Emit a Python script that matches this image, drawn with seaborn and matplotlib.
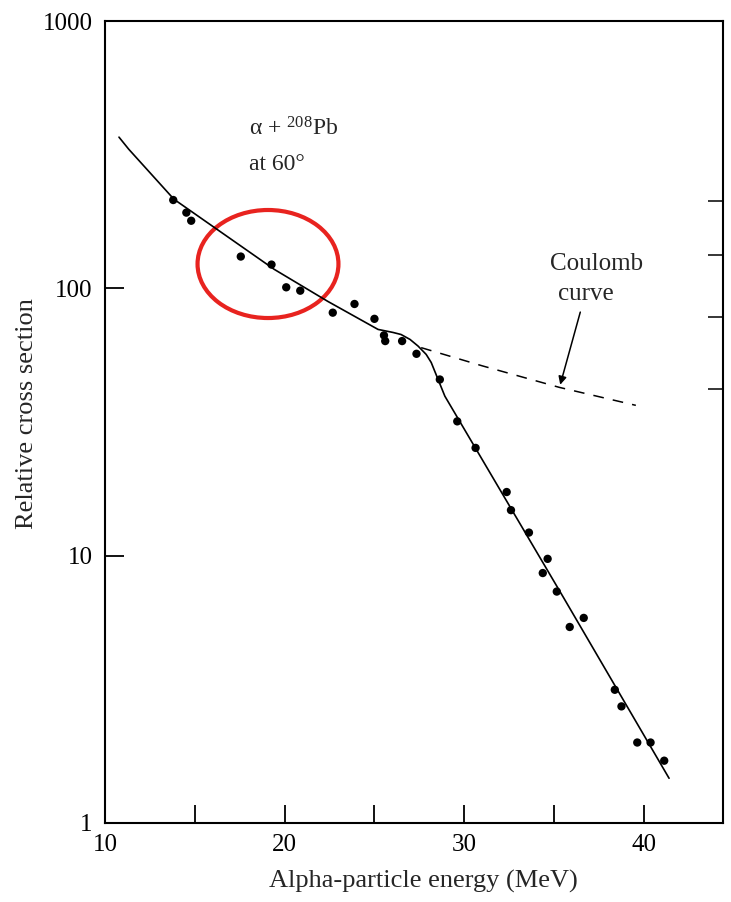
import numpy as np
import pandas as pd
import matplotlib
matplotlib.use("Agg")
import matplotlib.pyplot as plt
import seaborn as sns
from matplotlib.patches import Ellipse
from matplotlib.ticker import FixedLocator, NullFormatter

# measured points (alpha + 208Pb at 60 deg)
energy = [13.80, 14.53, 14.80, 17.56, 19.27, 20.09, 20.87, 22.68, 23.89, 25.00,
          25.53, 25.60, 26.54, 27.34, 28.64, 29.61, 30.63, 32.36, 32.60, 33.60,
          34.64, 34.37, 35.15, 36.65, 35.87, 38.38, 38.75, 39.63, 40.37, 41.13]
cross = [214, 192, 179, 131.5, 122.7, 100.9, 98, 81.1, 87.4, 76.9,
         66.7, 63.5, 63.5, 56.9, 45.6, 31.8, 25.3, 17.3, 14.8, 12.2,
         9.73, 8.61, 7.34, 5.85, 5.41, 3.15, 2.73, 2.0, 2.0, 1.71]

# fitted (solid) curve
fit_e = [10.78, 11.32, 13.84, 16.63, 19.42, 22.40, 25.20, 26.03, 26.48, 26.98,
         27.43, 27.88, 28.16, 28.92, 35.53, 41.40]
fit_cs = [367.8, 331.6, 215.4, 159.3, 117.8, 89.4, 70.2, 68.4, 67.2, 64.4,
          60.8, 56.6, 52.8, 39.5, 6.96, 1.47]

# Coulomb (dashed) curve
coul_e = [27.6, 31.0, 35.3, 39.55]
coul_cs = [60.0, 51.3, 42.6, 36.5]

x_major = [10, 20, 30, 40]
x_minor = [15, 25, 35]
y_major = [1, 10, 100, 1000]
y_right_ticks = [42.2, 77.8, 133, 212]

sns.set_theme(style="white")
plt.rcParams["font.family"] = ["Liberation Serif", "DejaVu Serif"]
plt.rcParams["mathtext.fontset"] = "custom"
plt.rcParams["mathtext.rm"] = "Liberation Serif"
plt.rcParams["mathtext.it"] = "Liberation Serif:italic"

fig = plt.figure(figsize=(7.31, 9.02), dpi=100)
ax = fig.add_axes([0.1436, 0.0876, 0.8454, 0.8891])

fit_df = pd.DataFrame({"E": fit_e, "cs": fit_cs})
coul_df = pd.DataFrame({"E": coul_e, "cs": coul_cs})
pts_df = pd.DataFrame({"E": energy, "cs": cross})

sns.lineplot(data=fit_df, x="E", y="cs", sort=False, color="black", lw=1.2, ax=ax)
sns.lineplot(data=coul_df, x="E", y="cs", sort=False, color="black", lw=1.1,
             dashes=False, ax=ax).lines[-1].set_dashes((7, 6))
sns.scatterplot(data=pts_df, x="E", y="cs", color="black", s=36, edgecolor="none",
                ax=ax, zorder=3)

ax.set_yscale("log")
ax.set_xlim(10, 44.4)
ax.set_ylim(1, 1000)

ax.xaxis.set_major_locator(FixedLocator(x_major))
ax.xaxis.set_minor_locator(FixedLocator(x_minor))
ax.set_xticklabels([str(v) for v in x_major])
ax.yaxis.set_major_locator(FixedLocator(y_major))
ax.set_yticklabels([str(v) for v in y_major])
ax.yaxis.set_minor_locator(FixedLocator(y_right_ticks))
ax.yaxis.set_minor_formatter(NullFormatter())

ax.tick_params(axis="x", which="both", direction="in", length=13, width=1.3,
               labelsize=18, pad=8, bottom=True, top=False, colors="black")
ax.tick_params(axis="y", which="major", direction="in", length=14, width=1.3,
               labelsize=18, pad=9, left=True, right=False, colors="black")
ax.tick_params(axis="y", which="minor", direction="in", length=11, width=1.3,
               left=False, right=True)

for sp in ax.spines.values():
    sp.set_color("black")
    sp.set_linewidth(1.5)

ax.set_xlabel("Alpha-particle energy (MeV)", fontsize=19)
ax.set_ylabel("Relative cross section", fontsize=19)
ax.xaxis.set_label_coords(0.515, -0.059)
ax.yaxis.set_label_coords(-0.108, 0.511)

ax.text(18.0, 395, r"α + $^{208}$Pb", fontsize=17, va="center", ha="left")
ax.text(18.0, 291, "at 60°", fontsize=17, va="center", ha="left")
ax.text(34.8, 123, "Coulomb", fontsize=18, va="center", ha="left")
ax.text(35.2, 95, "curve", fontsize=18, va="center", ha="left")
ax.annotate("", xy=(35.3, 42.6), xytext=(36.5, 83.4),
            arrowprops=dict(arrowstyle="-|>", color="black", lw=1.1,
                            mutation_scale=12))

ax.add_patch(Ellipse((0.2638, 0.697), 0.228, 0.1347, transform=ax.transAxes,
                     fill=False, ec="#e8231f", lw=3, clip_on=False))

fig.savefig("out.png", dpi=100)
